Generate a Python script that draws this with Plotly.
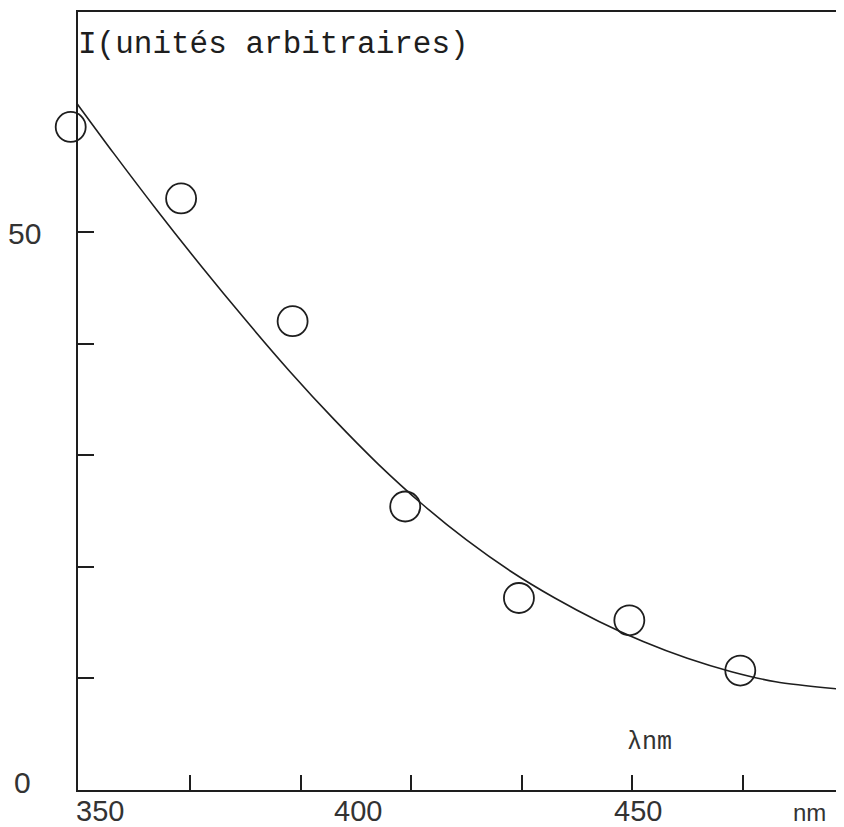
import plotly.graph_objects as go

# measured points (open circles)
wavelength = [348.3, 368.3, 388.5, 408.9, 429.5, 449.5, 469.6]
intensity = [59.4, 53.0, 42.0, 25.4, 17.2, 15.2, 10.7]

# hand-drawn fitted curve
curve_x = [348.7, 356, 364, 372, 380, 388, 396, 404, 412, 420,
           428, 436, 444, 452, 460, 468, 476, 487.3]
curve_y = [62.0, 57.1, 51.9, 46.9, 42.1, 37.5, 33.2, 29.2, 25.6, 22.4,
           19.6, 17.2, 15.1, 13.3, 11.8, 10.6, 9.7, 9.05]

# axis ticks and labels
x_ticks = [370, 390, 410, 430, 450, 470]
y_ticks = [10, 20, 30, 40, 50]
x_labels = ['350', '400', '450']
x_label_pos = [353.6, 400.4, 451.1]
y_labels = ['0', '50']
y_label_pos = [0, 50]

ink = '#1e1e1e'
grey = '#333333'
sans = 'Liberation Sans, Arial, sans-serif'
mono = 'Liberation Mono, DejaVu Sans Mono, monospace'

x_lo, x_hi = 349.6, 487.3   # framed area
x_pad = 346.0               # first circle sits left of the y axis
dom0 = (x_lo - x_pad) / (x_hi - x_pad)

fig = go.Figure()

fig.add_trace(go.Scatter(
    x=curve_x, y=curve_y,
    mode='lines',
    line=dict(color=ink, width=1.6, shape='spline', smoothing=0.8),
    hoverinfo='skip',
    showlegend=False
))

fig.add_trace(go.Scatter(
    x=wavelength, y=intensity,
    xaxis='x2',
    mode='markers',
    marker=dict(symbol='circle-open', size=30, color=ink, line=dict(width=1.8, color=ink)),
    cliponaxis=False,
    showlegend=False
))

for txt, xp in zip(x_labels, x_label_pos):
    fig.add_annotation(
        x=xp, y=0, xref='x', yref='y',
        text=txt, showarrow=False,
        yanchor='middle', yshift=-21,
        font=dict(family=sans, size=29, color=grey)
    )

fig.add_annotation(
    x=482.1, y=0, xref='x', yref='y',
    text='nm', showarrow=False,
    yanchor='middle', yshift=-22,
    font=dict(family=sans, size=24, color=grey)
)

# y labels: "0" sits a little higher and further left than "50"
fig.add_annotation(
    x=0, y=y_label_pos[0], xref='x domain', yref='y',
    text=y_labels[0], showarrow=False,
    xanchor='center', yanchor='middle', xshift=-55, yshift=8,
    font=dict(family=sans, size=30, color=grey)
)
fig.add_annotation(
    x=0, y=y_label_pos[1], xref='x domain', yref='y',
    text=y_labels[1], showarrow=False,
    xanchor='right', yanchor='middle', xshift=-35, yshift=-2,
    font=dict(family=sans, size=30, color=grey)
)

fig.add_annotation(
    x=0, y=66.8, xref='x domain', yref='y',
    text='I(unités arbitraires)', showarrow=False,
    xanchor='left', yanchor='middle', xshift=-2,
    font=dict(family=mono, size=31, color=ink)
)

fig.add_annotation(
    x=453.2, y=4.3, xref='x', yref='y',
    text='λnm', showarrow=False,
    yanchor='middle',
    font=dict(family=mono, size=25, color=grey)
)

# page body adds an 8px offset, so the figure is 8px smaller than the window
fig.update_layout(
    width=836, height=819,
    margin=dict(l=50, r=6, t=4, b=37),
    paper_bgcolor='white',
    plot_bgcolor='rgba(0,0,0,0)',
    showlegend=False,
    xaxis=dict(
        domain=[dom0, 1],
        range=[x_lo, x_hi],
        tickvals=x_ticks,
        showticklabels=False,
        ticks='inside', ticklen=15, tickwidth=2, tickcolor=ink,
        showline=True, linecolor=ink, linewidth=2, mirror=True,
        showgrid=False, zeroline=False, automargin=False
    ),
    xaxis2=dict(
        domain=[0, 1],
        range=[x_pad, x_hi],
        anchor='y',
        visible=False,
        automargin=False
    ),
    yaxis=dict(
        range=[0, 69.7],
        tickvals=y_ticks,
        showticklabels=False,
        ticks='inside', ticklen=16, tickwidth=2, tickcolor=ink,
        showline=True, linecolor=ink, linewidth=2, mirror=True,
        showgrid=False, zeroline=False, automargin=False
    )
)

fig.write_html("out.html")
